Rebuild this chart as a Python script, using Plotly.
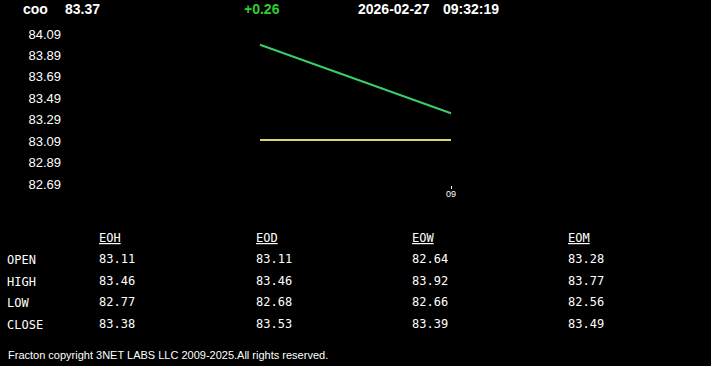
import plotly.graph_objects as go

# ---- data ----
symbol = "coo"
last_price = "83.37"
change = "+0.26"
date_str = "2026-02-27"
time_str = "09:32:19"

price_x = [0, 1]
price_y = [83.99, 83.35]
open_x = [0, 1]
open_y = [83.10, 83.10]

y_ticks = [82.69, 82.89, 83.09, 83.29, 83.49, 83.69, 83.89, 84.09]
x_tickvals = [1]
x_ticktext = ["09"]

periods = ["EOH", "EOD", "EOW", "EOM"]
rows = ["OPEN", "HIGH", "LOW", "CLOSE"]
eoh = [83.11, 83.46, 82.77, 83.38]
eod = [83.11, 83.46, 82.68, 83.53]
eow = [82.64, 83.92, 82.66, 83.39]
eom = [83.28, 83.77, 82.56, 83.49]
table_vals = [eoh, eod, eow, eom]

footer = "Fracton copyright 3NET LABS LLC 2009-2025.All rights reserved."

# ---- layout geometry (pixels) ----
W, H = 711, 366
L, R, T, B = 70, 700, 30, 185


def px(x):
    return (x - L) / (R - L)


def py(y):
    return (B - y) / (B - T)


fig = go.Figure()
fig.add_trace(go.Scatter(x=open_x, y=open_y, mode="lines",
                         line=dict(color="#d8d86a", width=2), hoverinfo="skip"))
fig.add_trace(go.Scatter(x=price_x, y=price_y, mode="lines",
                         line=dict(color="#3ccc6a", width=2), hoverinfo="skip"))

ann = []
hdr_font = dict(family="Liberation Sans, Arial", size=14, color="white", weight="bold")


def add(text, x, y, font, xanchor="left"):
    ann.append(dict(text=text, x=px(x), y=py(y), xref="paper", yref="paper",
                    xanchor=xanchor, yanchor="middle", showarrow=False, font=font))


add("<b>%s</b>" % symbol, 21, 9, hdr_font)
add("<b>%s</b>" % last_price, 63, 9, hdr_font)
add("<b>%s</b>" % change, 242, 9, dict(hdr_font, color="#33cc33"))
add("<b>%s</b>" % date_str, 356, 9, hdr_font)
add("<b>%s</b>" % time_str, 441, 9, hdr_font)

mono = dict(family="DejaVu Sans Mono, monospace", size=12, color="white")
col_x = [97, 254, 410, 566]
row_y = [259, 280.5, 302, 323.5]
for cx, name, vals in zip(col_x, periods, table_vals):
    add("<u>%s</u>" % name, cx, 238, mono)
    for ry, v in zip(row_y, vals):
        add("%.2f" % v, cx, ry, mono)
for ry, name in zip(row_y, rows):
    add(name, 5, ry + 1, mono)

add(footer, 6, 355, dict(family="Liberation Sans, Arial", size=11, color="white"))

fig.update_layout(
    width=W, height=H, autosize=False,
    margin=dict(l=L, r=W - R, t=T, b=H - B, pad=0),
    paper_bgcolor="black", plot_bgcolor="black",
    showlegend=False,
    annotations=ann,
    xaxis=dict(range=[(L - 260) / 191.0, (R - 260) / 191.0], tickvals=x_tickvals,
               ticktext=x_ticktext, ticks="outside", ticklen=3, tickcolor="white",
               ticklabelstandoff=-3,
               tickfont=dict(family="Liberation Sans, Arial", size=9, color="white"),
               showgrid=False, zeroline=False, showline=False, fixedrange=True),
    yaxis=dict(range=[82.681, 84.127], tickvals=y_ticks,
               ticktext=["%.2f" % v for v in y_ticks],
               ticks="", ticklabelstandoff=8,
               tickfont=dict(family="Liberation Sans, Arial", size=13, color="white"),
               showgrid=False, zeroline=False, showline=False, fixedrange=True),
)

fig.write_html("out.html", config={"displayModeBar": False})
